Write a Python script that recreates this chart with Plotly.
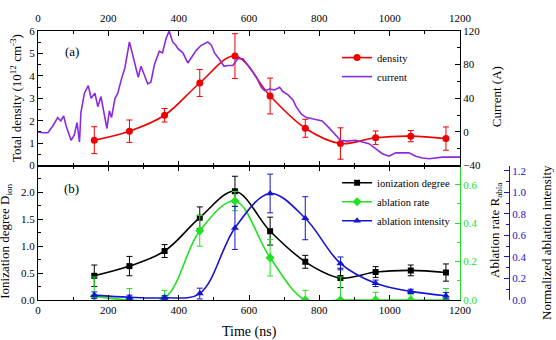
import plotly.graph_objects as go

# ---------------- data ----------------
t_pts = [160, 260, 360, 460, 560, 660, 760, 860, 960, 1060, 1160]
density = [1.13, 1.53, 2.24, 3.68, 4.88, 3.10, 1.66, 0.98, 1.24, 1.31, 1.20]
density_err = [0.6, 0.5, 0.3, 0.6, 1.0, 0.8, 0.4, 0.7, 0.3, 0.25, 0.52]

t_cur = [0, 14, 28, 42, 56, 65, 73, 80, 94, 103, 111, 118, 122, 132, 143, 151, 162, 170, 179,
         189, 196, 203, 209, 219, 227, 236, 247, 260, 269, 279, 285, 293, 302, 312, 321, 331,
         345, 354, 364, 373, 383, 392, 398, 412, 426, 436, 450, 464, 483, 493, 502, 516, 529,
         540, 554, 568, 583, 592, 607, 621, 635, 644, 659, 673, 687, 696, 711, 725, 734, 749,
         763, 777, 789, 808, 827, 846, 860, 879, 903, 922, 941, 960, 979, 998, 1017, 1036,
         1055, 1074, 1093, 1112, 1131, 1150, 1169, 1200]
current = [0, -1, -1, 7, 17, 13, 19, 7, -10, -4, 11, -12, 23, 46, 55, 40, 46, 30, 42,
           21, 4, 25, 17, 40, 46, 61, 76, 107, 92, 74, 65, 78, 69, 57, 59, 80,
           96, 94, 111, 120, 107, 103, 99, 94, 82, 88, 97, 103, 107, 103, 94, 86, 78,
           79, 79, 87, 87, 82, 74, 65, 53, 49, 51, 50, 53, 48, 44, 38, 30, 21,
           17, 16, 15, 13, 5, -4, -10, -11, -10, -12, -14, -20, -26, -29, -25, -25,
           -25, -29, -31, -32, -31, -30, -30, -30]

ionization = [0.45, 0.63, 0.91, 1.53, 2.02, 1.28, 0.71, 0.41, 0.52, 0.55, 0.51]
ionization_err = [0.2, 0.18, 0.12, 0.2, 0.28, 0.26, 0.12, 0.18, 0.1, 0.1, 0.16]

abl_rate = [0.02, 0.0, 0.01, 0.36, 0.515, 0.22, 0.0, 0.0, 0.0, 0.0, 0.0]
abl_rate_err = [0.1, 0.06, 0.04, 0.08, 0.05, 0.095, 0.05, 0.12, 0.04, 0.03, 0.06]

abl_int = [0.045, 0.025, 0.02, 0.06, 0.67, 0.99, 0.76, 0.34, 0.155, 0.08, 0.04]
abl_int_err = [0.03, 0.02, 0.02, 0.05, 0.2, 0.18, 0.2, 0.06, 0.03, 0.02, 0.03]

# ---------------- styles ----------------
FONT = "Liberation Serif, Times New Roman, serif"
RED = "#f00000"
PURPLE = "#8a2be2"
GREEN = "#22e022"
BLUE = "#1414d2"

fig = go.Figure()

# top panel
fig.add_trace(go.Scatter(
    x=t_cur, y=current, mode="lines", name="current",
    line=dict(color=PURPLE, width=1.6), xaxis="x2", yaxis="y2", legend="legend"))
fig.add_trace(go.Scatter(
    x=t_pts, y=density, mode="lines+markers", name="density",
    line=dict(color=RED, width=1.6, shape="spline", smoothing=1.0),
    marker=dict(symbol="circle", size=7, color=RED),
    error_y=dict(type="data", array=density_err, color=RED, thickness=1, width=3),
    xaxis="x2", yaxis="y", legend="legend"))

# bottom panel
fig.add_trace(go.Scatter(
    x=t_pts, y=ionization, mode="lines+markers", name="ionization degree",
    line=dict(color="black", width=1.6, shape="spline", smoothing=1.0),
    marker=dict(symbol="square", size=6, color="black"),
    error_y=dict(type="data", array=ionization_err, color="black", thickness=1, width=3),
    xaxis="x", yaxis="y3", legend="legend2"))
fig.add_trace(go.Scatter(
    x=t_pts, y=abl_rate, mode="lines+markers", name="ablation rate",
    line=dict(color=GREEN, width=1.6, shape="spline", smoothing=1.0),
    marker=dict(symbol="diamond", size=7, color=GREEN),
    error_y=dict(type="data", array=abl_rate_err, color=GREEN, thickness=1, width=3),
    xaxis="x", yaxis="y4", legend="legend2"))
fig.add_trace(go.Scatter(
    x=t_pts, y=abl_int, mode="lines+markers", name="ablation intensity",
    line=dict(color=BLUE, width=1.6, shape="spline", smoothing=1.0),
    marker=dict(symbol="triangle-up", size=7, color=BLUE),
    error_y=dict(type="data", array=abl_int_err, color=BLUE, thickness=1, width=3),
    xaxis="x", yaxis="y5", legend="legend2"))

tickfont = dict(family=FONT, size=11, color="black")
XD = [0, 0.896]

def xax(side, anchor, showlabels, standoff=0):
    return dict(domain=XD, range=[0, 1200], anchor=anchor, side=side,
                tickvals=[0, 200, 400, 600, 800, 1000, 1200],
                showticklabels=showlabels, ticks="inside", ticklen=5, tickcolor="black",
                ticklabelstandoff=standoff,
                minor=dict(ticks="inside", ticklen=3, dtick=100, tick0=0, tickcolor="black"),
                showline=True, linecolor="black", linewidth=1, mirror="ticks",
                showgrid=False, zeroline=False, tickfont=tickfont)

def yax(**kw):
    d = dict(ticks="inside", ticklen=5, showline=True, linewidth=1,
             showgrid=False, zeroline=False, tickfont=dict(tickfont))
    d.update(kw)
    return d

fig.update_layout(
    width=556, height=340,
    margin=dict(l=38, r=47, t=22, b=40),
    paper_bgcolor="white", plot_bgcolor="white",
    font=dict(family=FONT, size=11, color="black"),
    xaxis=xax("bottom", "y3", True),
    xaxis2=xax("top", "y", True, standoff=4),
    yaxis=yax(domain=[0.5, 1], anchor="x2", range=[0, 6], tickvals=[0, 1, 2, 3, 4, 5, 6],
              linecolor="black", tickcolor="black",
              minor=dict(ticks="inside", ticklen=3, dtick=0.5, tickcolor="black")),
    yaxis2=yax(overlaying="y", side="right", anchor="x2", range=[-40, 120],
               tickvals=[-40, 0, 40, 80, 120], linecolor="black", tickcolor="black",
               minor=dict(ticks="inside", ticklen=3, dtick=20, tickcolor="black")),
    yaxis3=yax(domain=[0, 0.5], anchor="x", range=[0, 2.5],
               tickvals=[0, 0.5, 1.0, 1.5, 2.0], tickformat=".1f",
               linecolor="black", tickcolor="black",
               minor=dict(ticks="inside", ticklen=3, dtick=0.25, tickcolor="black")),
    yaxis4=yax(overlaying="y3", side="right", anchor="x", range=[0, 0.7],
               tickvals=[0, 0.2, 0.4, 0.6], tickformat=".1f",
               linecolor=GREEN, tickcolor=GREEN,
               tickfont=dict(family=FONT, size=11, color=GREEN),
               minor=dict(ticks="inside", ticklen=3, dtick=0.1, tickcolor=GREEN)),
    yaxis5=yax(overlaying="y3", side="right", anchor="free", position=1.0, range=[0, 1.25],
               tickvals=[0, 0.2, 0.4, 0.6, 0.8, 1.0, 1.2], tickformat=".1f",
               linecolor=BLUE, tickcolor=BLUE,
               tickfont=dict(family=FONT, size=11, color=BLUE),
               minor=dict(ticks="inside", ticklen=3, dtick=0.1, tickcolor=BLUE)),
    legend=dict(x=0.635, y=0.955, xanchor="left", yanchor="top", bgcolor="rgba(0,0,0,0)",
                font=dict(family=FONT, size=10.5), itemwidth=30, traceorder="reversed",
                tracegroupgap=0),
    legend2=dict(x=0.635, y=0.49, xanchor="left", yanchor="top", bgcolor="rgba(0,0,0,0)",
                 font=dict(family=FONT, size=10.5), itemwidth=30, tracegroupgap=0),
    showlegend=True,
)

ann = [
    dict(text="Total density (10<sup>12</sup> cm<sup>-3</sup>)", x=-0.047, y=0.75, textangle=-90,
         font=dict(size=13)),
    dict(text="Ionization degree D<sub>ion</sub>", x=-0.068, y=0.22, textangle=-90,
         font=dict(size=13)),
    dict(text="Current (A)", x=0.975, y=0.755, textangle=-90, font=dict(size=13)),
    dict(text="Ablation rate R<sub>abla</sub>", x=0.97, y=0.26, textangle=-90, font=dict(size=13)),
    dict(text="Normalized ablation intensity", x=1.078, y=0.215, textangle=-90, font=dict(size=13)),
    dict(text="Time (ns)", x=0.449, y=-0.118, font=dict(size=14)),
    dict(text="(a)", x=0.072, y=0.924, font=dict(size=13)),
    dict(text="(b)", x=0.072, y=0.414, font=dict(size=13)),
]
for a in ann:
    a.update(xref="paper", yref="paper", showarrow=False, xanchor="center", yanchor="middle")
    a["font"] = dict(family=FONT, color="black", **a["font"])
fig.update_layout(annotations=ann)

fig.write_html("out.html")
